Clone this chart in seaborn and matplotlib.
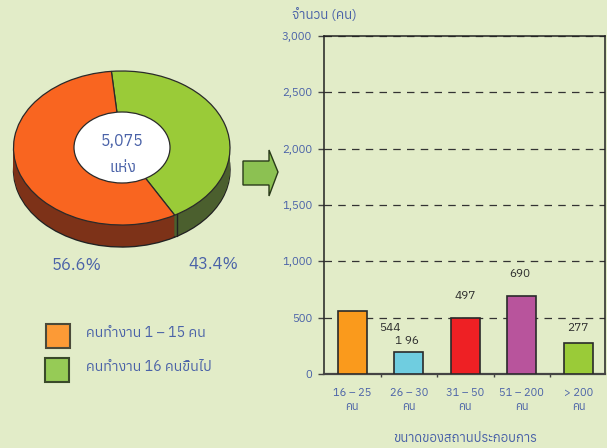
import matplotlib
matplotlib.use("Agg")
import matplotlib.pyplot as plt
from matplotlib.patches import Polygon, Rectangle, Ellipse
import pandas as pd
import seaborn as sns

categories = ["16 – 25\nคน", "26 – 30\nคน", "31 – 50\nคน", "51 – 200\nคน", "> 200\nคน"]
bar_heights = [559, 196, 497, 690, 277]
bar_labels = ["544", "1 96", "497", "690", "277"]
bar_colors = ["#FA9A1C", "#6FCDE0", "#EE2024", "#B8549C", "#9ACB38"]
yticks = [0, 500, 1000, 1500, 2000, 2500, 3000]
ytick_labels = ["0", "500", "1,000", "1,500", "2,000", "2,500", "3,000"]
pie_shares = [43.4, 56.6]
pie_top_colors = ["#9ACB38", "#F96520"]
pie_side_colors = ["#4B5F2E", "#7D3218"]
pie_labels = ["43.4%", "56.6%"]
legend_labels = ["คนทำงาน 1 – 15 คน", "คนทำงาน 16 คนขึ้นไป"]
legend_colors = ["#FC9A36", "#96CB56"]

W, H = 607, 448
BG = "#E2ECC8"
BLUE = "#4A62A8"
DARK = "#2E2E2E"

sns.set_theme(style="white")
plt.rcParams["font.family"] = ["Anuphan", "DejaVu Sans"]

fig = plt.figure(figsize=(W / 100, H / 100), dpi=100, facecolor=BG)


def px_axes(left, top, right, bottom):
    return fig.add_axes([left / W, 1 - bottom / H, (right - left) / W, (bottom - top) / H])


# Bar chart
df = pd.DataFrame({"size": categories, "count": bar_heights})
ax = px_axes(324, 36, 605, 374)
ax.set_facecolor("none")
sns.barplot(data=df, x="size", y="count", hue="size", palette=bar_colors, legend=False,
            width=0.51, saturation=1, edgecolor="#2A2A2A", linewidth=1.2, ax=ax, zorder=3)
ax.set_xlim(-0.5, 4.47)
ax.set_ylim(0, 3000)
ax.set_yticks(yticks, ytick_labels)
ax.yaxis.grid(True, color="#333333", linestyle=(0, (6, 5)), linewidth=0.9)
ax.xaxis.grid(False)
ax.set_axisbelow(True)
ax.set_xlabel("")
ax.set_ylabel("")
for s in ax.spines.values():
    s.set_color("#222222")
    s.set_linewidth(1.1)
ax.spines["bottom"].set_linewidth(1.6)
ax.spines["bottom"].set_color("#444444")
ax.tick_params(axis="y", length=4.5, width=1, color="#444444", labelsize=8.2,
               labelcolor=BLUE, pad=4, left=True)
ax.set_xticks(range(5), categories)
ax.tick_params(axis="x", which="major", length=0, labelsize=8, labelcolor=BLUE, pad=10)
ax.set_xticks([0.5, 1.5, 2.5, 3.5], minor=True)
ax.tick_params(axis="x", which="minor", length=2.5, width=1, color="#444444", bottom=True)
for lab in ax.get_xticklabels():
    lab.set_linespacing(1.55)
    lab.set_fontweight("medium")
for lab in ax.get_yticklabels():
    lab.set_fontweight("medium")

# Pie: top face spans x 13.5-230, y 71-225; side depth 22 px
pie_ax = px_axes(13.5, 71, 230, 247)
depth = 44 / 154
start = 95.5
steps = 22
for i in range(steps, 0, -1):
    d = depth * i / steps
    pie_ax.pie(pie_shares, colors=pie_side_colors, startangle=start, counterclock=False,
               center=(0, -d), radius=1,
               wedgeprops={"edgecolor": "#222222" if i == steps else "none", "linewidth": 1.0})
pie_ax.pie(pie_shares, colors=pie_top_colors, startangle=start, counterclock=False,
           center=(0, 0), radius=1, wedgeprops={"edgecolor": "#2A2A2A", "linewidth": 0.9})
pie_ax.set_aspect("auto")
pie_ax.set_xlim(-1, 1)
pie_ax.set_ylim(-1 - depth, 1)
pie_ax.patch.set_visible(False)

# Overlay in pixel coordinates
ov = fig.add_axes([0, 0, 1, 1], facecolor="none")
ov.set_xlim(0, W)
ov.set_ylim(H, 0)
ov.axis("off")

ov.plot([177, 177], [214, 236], color="#222222", lw=1.0)
ov.add_patch(Ellipse((122, 147.5), 96, 71, facecolor="white", edgecolor="#2A2A2A", lw=0.9))
ov.text(122, 141, "5,075", ha="center", va="center", color=BLUE, fontsize=11.5, fontweight="bold")
ov.text(123, 167, "แห่ง", ha="center", va="center", color=BLUE, fontsize=11.5, fontweight="bold")
ov.text(77, 265, pie_labels[1], ha="center", va="center", color=BLUE, fontsize=12)
ov.text(213, 264, pie_labels[0], ha="center", va="center", color=BLUE, fontsize=12)

ov.add_patch(Polygon([(243, 161), (269, 161), (269, 150), (278, 172), (269, 196), (269, 185), (243, 185)],
                     closed=True, facecolor="#8CC152", edgecolor="#2A3A1A", lw=1.0))

ov.add_patch(Rectangle((46, 324), 24, 24, facecolor=legend_colors[0], edgecolor="#4A4A3A", lw=1.5))
ov.add_patch(Rectangle((45, 358), 24, 24, facecolor=legend_colors[1], edgecolor="#3A4A2A", lw=1.5))
ov.text(86, 333, legend_labels[0], ha="left", va="center", color=BLUE, fontsize=10.2)
ov.text(86, 367, legend_labels[1], ha="left", va="center", color=BLUE, fontsize=10.2)

ov.text(292, 15, "จำนวน (คน)", ha="left", va="center", color=BLUE, fontsize=9.6, fontweight="bold")
ov.text(465, 438, "ขนาดของสถานประกอบการ", ha="center", va="center", color=BLUE, fontsize=9.4, fontweight="bold")

label_pos = [(390, 328), (407, 341), (465, 296), (520, 274), (578, 328)]
for txt, (x, y) in zip(bar_labels, label_pos):
    ov.text(x, y, txt, ha="center", va="center", color=DARK, fontsize=8.5, fontweight="medium")

fig.savefig("out.png", dpi=100, facecolor=BG)
